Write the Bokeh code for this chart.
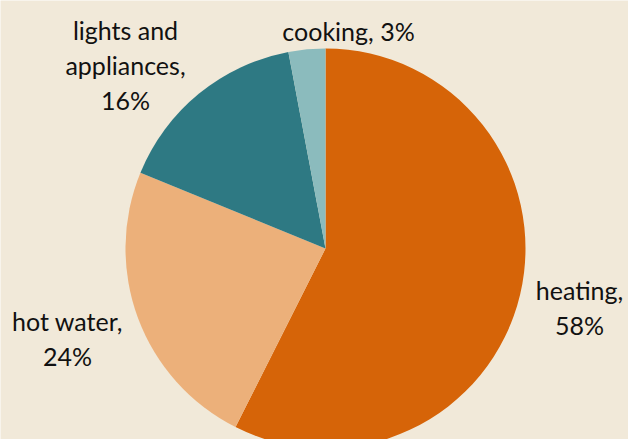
import numpy as np
from bokeh.plotting import figure
from bokeh.models import Range1d, ColumnDataSource
from bokeh.core.properties import value
from bokeh.embed import file_html
from bokeh.resources import INLINE

# ---- data ----
categories = ["heating", "hot water", "lights and appliances", "cooking"]
percents = [58, 24, 16, 3]

# ---- style / layout ----
colors = ["#D66408", "#ECB07A", "#2E7983", "#8BBBBD"]
BG = "#F1E9D9"
W, H = 628, 439
CX, CY, R = 325, 248, 200          # pie centre / radius in screen px
FONT = "Lato"
FS = 25
LINE_GAP = 35
# label line wrapping and first-line centres (screen px)
label_lines = {
    "heating": ["heating,", "{v}%"],
    "hot water": ["hot water,", "{v}%"],
    "lights and appliances": ["lights and", "appliances,", "{v}%"],
    "cooking": ["cooking, {v}%"],
}
label_anchor = {
    "heating": (579, 289),
    "hot water": (67, 320),
    "lights and appliances": (125, 29),
    "cooking": (348, 30),
}

p = figure(width=W, height=H, x_range=Range1d(0, W), y_range=Range1d(0, H),
           output_backend="svg", toolbar_location=None, min_border=0,
           background_fill_color=BG, border_fill_color=BG, outline_line_color=None)
p.axis.visible = False
p.grid.visible = False

frac = np.array(percents, dtype=float) / sum(percents)
cum = np.concatenate([[0.0], np.cumsum(frac)])
start = np.pi / 2 - 2 * np.pi * cum[:-1]
end = np.pi / 2 - 2 * np.pi * cum[1:]
src = ColumnDataSource(dict(start=start, end=end, color=colors, cat=categories))
p.wedge(x=CX, y=H - CY, radius=R, start_angle="start", end_angle="end",
        direction="clock", fill_color="color", line_color=None, source=src)

tx, ty, tt = [], [], []
for cat, v in zip(categories, percents):
    ax, ay = label_anchor[cat]
    for i, line in enumerate(label_lines[cat]):
        tx.append(ax)
        ty.append(H - (ay + i * LINE_GAP))
        tt.append(line.format(v=v))
p.text(x=tx, y=ty, text=tt, text_font=value(FONT), text_font_size=f"{FS}px",
       text_align="center", text_baseline="middle", text_color="#111111")

open("out.html", "w").write(file_html(p, INLINE))
